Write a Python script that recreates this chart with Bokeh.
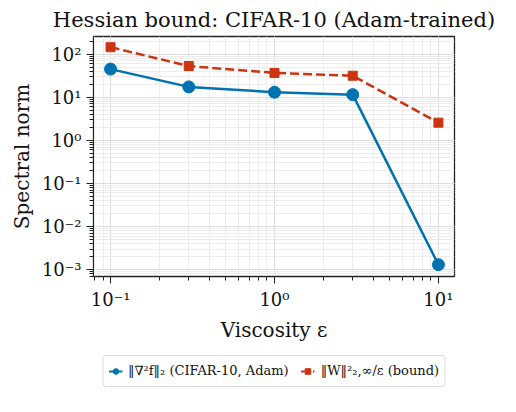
from bokeh.plotting import figure
from bokeh.models import Legend, LegendItem, CustomJSTickFormatter
from bokeh.layouts import column
from bokeh.embed import file_html
from bokeh.resources import INLINE

viscosity = [0.1, 0.3, 1.0, 3.0, 10.0]
hessian_norm = [45.0, 17.4, 13.1, 11.5, 0.0013]
bound = [145.0, 53.0, 36.7, 31.6, 2.57]
series_labels = ["‖∇²f‖₂ (CIFAR-10, Adam)", "‖W‖²₂,∞/ε (bound)"]

BLUE = "#0072B2"
RED = "#CC3311"
FONT = "DejaVu Serif"

p = figure(width=500, height=350, x_axis_type="log", y_axis_type="log",
           x_range=(10**-1.104, 10**1.098), y_range=(10**-3.16, 10**2.41),
           output_backend="svg", toolbar_location=None,
           min_border_left=93, min_border_right=46, min_border_top=34, min_border_bottom=74)

p.title.text = "Hessian bound: CIFAR-10 (Adam-trained)"
p.title.text_font = FONT
p.title.text_font_size = "21px"
p.title.text_font_style = "normal"
p.title.text_color = "#111111"
p.title.align = "center"

p.outline_line_color = "#222222"
p.outline_line_width = 1.3
p.outline_line_alpha = 1

p.line(viscosity, hessian_norm, line_color=BLUE, line_width=2.5)
p.scatter(viscosity, hessian_norm, size=12, marker="circle", fill_color=BLUE, line_color=BLUE)
p.line(viscosity, bound, line_color=RED, line_width=2.5, line_dash="9 4")
p.scatter(viscosity, bound, size=9, marker="square", fill_color=RED, line_color=RED)

fmt = CustomJSTickFormatter(code="""
const sup = {'-':'\u207b','0':'\u2070','1':'\u00b9','2':'\u00b2','3':'\u00b3','4':'\u2074','5':'\u2075','6':'\u2076','7':'\u2077','8':'\u2078','9':'\u2079'};
const e = Math.round(Math.log10(tick));
return '10' + String(e).split('').map(c => sup[c]).join('');
""")

for ax in (p.xaxis[0], p.yaxis[0]):
    ax.formatter = fmt
    ax.major_label_text_font = FONT
    ax.major_label_text_font_size = "18px"
    ax.major_label_text_color = "#111111"
    ax.axis_label_text_font = FONT
    ax.axis_label_text_font_size = "20px"
    ax.axis_label_text_font_style = "normal"
    ax.axis_label_text_color = "#111111"
    ax.axis_line_color = "#222222"
    ax.major_tick_line_color = "#222222"
    ax.minor_tick_line_color = "#222222"
    ax.major_tick_out = 7
    ax.major_tick_in = 0
    ax.minor_tick_out = 4
    ax.minor_tick_in = 0

p.xaxis.axis_label = "Viscosity ε"
p.yaxis.axis_label = "Spectral norm"

p.xgrid.grid_line_color = "#dddddd"
p.ygrid.grid_line_color = "#dddddd"
p.xgrid.minor_grid_line_color = "#ececec"
p.ygrid.minor_grid_line_color = "#ececec"

# legend strip below the chart (its renderers lie outside its view)
q = figure(width=500, height=41, x_range=(1000, 2000), y_range=(1000, 2000),
           x_axis_location=None, y_axis_location=None,
           output_backend="svg", toolbar_location=None,
           min_border_left=0, min_border_right=0, min_border_top=0, min_border_bottom=0)
q.grid.visible = False
q.outline_line_color = None
a1 = q.line(viscosity, hessian_norm, line_color=BLUE, line_width=2)
b1 = q.scatter(viscosity, hessian_norm, size=9, marker="circle", fill_color=BLUE, line_color=BLUE)
a2 = q.line(viscosity, bound, line_color=RED, line_width=2, line_dash="4 2")
b2 = q.scatter(viscosity, bound, size=7, marker="square", fill_color=RED, line_color=RED)

legend = Legend(items=[
    LegendItem(label=series_labels[0], renderers=[a1, b1]),
    LegendItem(label=series_labels[1], renderers=[a2, b2]),
], orientation="horizontal", location="center")
legend.label_text_font = FONT
legend.label_text_font_size = "13px"
legend.label_text_color = "#111111"
legend.border_line_color = "#bbbbbb"
legend.border_line_width = 1.5
legend.border_radius = 4
legend.margin = 0
legend.padding = 5
legend.spacing = 12
legend.glyph_width = 14
legend.label_standoff = 6
q.add_layout(legend, "center")

open("out.html", "w").write(file_html(column(p, q, spacing=0), INLINE))
